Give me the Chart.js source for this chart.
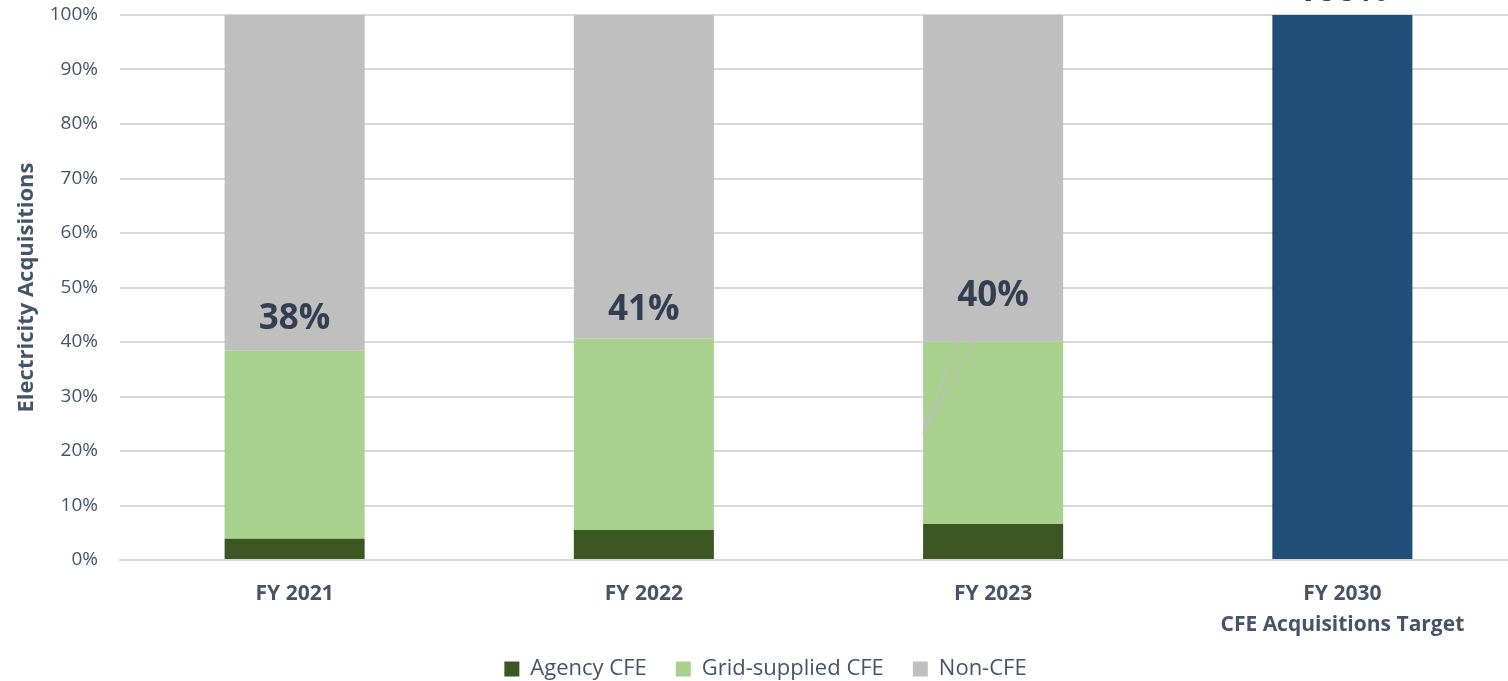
<!DOCTYPE html>
<html>
<head>
<meta charset="utf-8">
<script src="https://cdn.jsdelivr.net/npm/chart.js@4"></script>
<style>
  html, body { margin: 0; padding: 0; overflow: hidden; background: #fff; }
  #wrap { width: 1517px; height: 681px; }
</style>
</head>
<body>
<div id="wrap"><canvas id="cfe-chart"></canvas></div>
<script>
const categories = [['FY 2021'], ['FY 2022'], ['FY 2023'], ['FY 2030', 'CFE Acquisitions Target']];
const agencyCfe = [3.9, 5.5, 6.6, null];
const gridCfe = [34.5, 35.1, 33.5, null];
const nonCfe = [61.6, 59.4, 59.9, null];
const target = [null, null, null, 100];
const yTicks = [0, 10, 20, 30, 40, 50, 60, 70, 80, 90, 100];

const axisColor = '#44546A';
const labelColor = '#333F50';
const fontFamily = '"Open Sans", "Noto Sans", sans-serif';

// percent labels above the CFE part of each bar
const totalLabels = {
    id: 'totalLabels',
    afterDatasetsDraw(chart) {
        const ctx = chart.ctx;
        const y = chart.scales.y;
        const offsets = [32, 29, 45, 24];
        ctx.save();
        ctx.font = 'bold 35px ' + fontFamily;
        ctx.fillStyle = labelColor;
        ctx.textAlign = 'center';
        ctx.textBaseline = 'middle';
        categories.forEach(function (c, i) {
            let total;
            if (target[i] != null) {
                total = target[i];
            } else {
                total = agencyCfe[i] + gridCfe[i];
            }
            const bar = chart.getDatasetMeta(target[i] != null ? 3 : 1).data[i];
            const top = y.getPixelForValue(total);
            ctx.fillText(Math.round(total) + '%', bar.x, top - offsets[i]);

            // leader lines on FY 2023 (label moved up)
            if (i === 2) {
                const left = bar.x - bar.width / 2;
                const endY = y.getPixelForValue(23.3);
                ctx.strokeStyle = '#BFBFBF';
                ctx.lineWidth = 1.5;
                [36, 18].forEach(function (dx) {
                    ctx.beginPath();
                    ctx.moveTo(bar.x - dx, top);
                    ctx.lineTo(left, endY);
                    ctx.stroke();
                });
            }
        });
        ctx.restore();
    }
};

// pull the legend up a bit closer to the axis labels
const legendShift = {
    id: 'legendShift',
    afterLayout(chart) {
        chart.legend.top -= 11;
        chart.legend.bottom -= 11;
    }
};

const ctx = document.getElementById('cfe-chart').getContext('2d');
new Chart(ctx, {
    type: 'bar',
    data: {
        labels: categories,
        datasets: [
            { label: 'Agency CFE', data: agencyCfe, backgroundColor: '#3A5724' },
            { label: 'Grid-supplied CFE', data: gridCfe, backgroundColor: '#A9D18E' },
            { label: 'Non-CFE', data: nonCfe, backgroundColor: '#BFBFBF' },
            { label: 'Target', data: target, backgroundColor: '#1F4E79' }
        ]
    },
    options: {
        responsive: true,
        maintainAspectRatio: false,
        animation: false,
        layout: { padding: { top: 0, bottom: -20, left: 14 } },
        datasets: {
            bar: { barPercentage: 0.401, categoryPercentage: 1, skipNull: true }
        },
        scales: {
            x: {
                stacked: true,
                grid: { display: false },
                border: { color: '#D9D9D9', width: 2 },
                afterFit: function (scale) { scale.height = 80; },
                ticks: {
                    color: axisColor,
                    font: { family: fontFamily, size: 21, weight: 'bold', lineHeight: 1.5 },
                    padding: 10
                }
            },
            y: {
                stacked: true,
                min: 0,
                max: 100,
                afterBuildTicks: function (scale) {
                    scale.ticks = yTicks.map(function (v) { return { value: v }; });
                },
                afterFit: function (scale) {
                    scale.width = 106;
                    scale.paddingTop = 15;
                    scale.paddingBottom = 0;
                },
                grid: { color: '#D9D9D9', lineWidth: 2, drawTicks: false },
                border: { display: false },
                ticks: {
                    color: axisColor,
                    font: { family: fontFamily, size: 19 },
                    padding: 22,
                    callback: function (v) { return v + '%'; }
                },
                title: {
                    display: true,
                    text: 'Electricity Acquisitions',
                    color: axisColor,
                    font: { family: fontFamily, size: 22, weight: 'bold' },
                    padding: 0
                }
            }
        },
        plugins: {
            legend: {
                position: 'bottom',
                labels: {
                    color: axisColor,
                    font: { family: fontFamily, size: 22 },
                    boxWidth: 15,
                    boxHeight: 15,
                    padding: 29,
                    filter: function (item) { return item.text !== 'Target'; }
                }
            },
            tooltip: { enabled: false }
        }
    },
    plugins: [totalLabels, legendShift]
});
</script>
</body>
</html>
